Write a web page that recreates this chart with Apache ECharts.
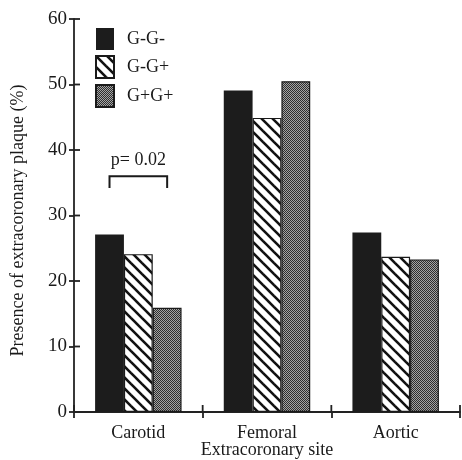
<!DOCTYPE html>
<html><head><meta charset="utf-8">
<script src="https://cdn.jsdelivr.net/npm/echarts@6/dist/echarts.min.js"></script>
<style>html,body{margin:0;padding:0;background:#fff}#c{width:462px;height:460px}</style>
</head><body><div id="c"></div>
<script>
var categories = ['Carotid', 'Femoral', 'Aortic'];
var seriesNames = ['G-G-', 'G-G+', 'G+G+'];
var valsGmGm = [27.1, 49.1, 27.4];
var valsGmGp = [24.1, 44.9, 23.7];
var valsGpGp = [15.9, 50.5, 23.3];
var yTicks = [0, 10, 20, 30, 40, 50, 60];
var pText = 'p= 0.02';
var bracketY = 36.0, bracketTickY = 34.2, pTextY = 38.4;

var FONT = 'Liberation Serif';

function hatchPattern() {
  var s = 11, c = document.createElement('canvas');
  c.width = s; c.height = s;
  var g = c.getContext('2d');
  g.fillStyle = '#fff'; g.fillRect(0, 0, s, s);
  g.strokeStyle = '#111'; g.lineWidth = 2.6;
  for (var k = -1; k <= 1; k++) {
    g.beginPath(); g.moveTo(-2, -2 + k * s); g.lineTo(s + 2, s + 2 + k * s); g.stroke();
  }
  return c;
}
function dotPattern() {
  var c = document.createElement('canvas');
  c.width = 2; c.height = 2;
  var g = c.getContext('2d');
  g.fillStyle = '#a4a4a4'; g.fillRect(0, 0, 2, 2);
  g.fillStyle = '#2e2e2e'; g.fillRect(0, 0, 1, 1); g.fillRect(1, 1, 1, 1);
  return c;
}

var colors = [
  '#1c1c1c',
  { image: hatchPattern(), repeat: 'repeat' },
  { image: dotPattern(), repeat: 'repeat' }
];
var dataSets = [valsGmGm, valsGmGp, valsGpGp];

var chart = echarts.init(document.getElementById('c'), null, { renderer: 'canvas' });
var textColor = '#1a1a1a';
var axisCol = '#222';
var option = {
  backgroundColor: '#fff',
  animation: false,
  grid: { left: 74, right: 2, top: 19, bottom: 48, containLabel: false, outerBoundsMode: 'none' },
  legend: {
    orient: 'vertical', left: 95, top: 28, icon: 'rect', padding: 0,
    itemWidth: 18, itemHeight: 22, itemGap: 5,
    data: seriesNames,
    textStyle: { fontFamily: FONT, fontSize: 18, color: textColor, padding: [8, 0, 0, 8] }
  },
  xAxis: {
    type: 'category', data: categories,
    axisLine: { lineStyle: { color: axisCol, width: 1.8 } },
    axisTick: { show: true, length: 6, lineStyle: { color: axisCol, width: 1.8 } },
    axisLabel: { fontFamily: FONT, fontSize: 18, color: textColor, margin: 12 },
    name: 'Extracoronary site', nameLocation: 'middle', nameGap: 29, nameMoveOverlap: false,
    nameTextStyle: { fontFamily: FONT, fontSize: 18, color: textColor }
  },
  yAxis: {
    type: 'value', min: yTicks[0], max: yTicks[yTicks.length - 1], interval: 10,
    axisLine: { show: true, lineStyle: { color: axisCol, width: 1.8 } },
    axisTick: { show: true, length: 5, lineStyle: { color: axisCol, width: 1.8 } },
    splitLine: { show: false },
    axisLabel: { fontFamily: FONT, fontSize: 19, color: textColor, margin: 7 },
    name: 'Presence of extracoronary plaque (%)', nameLocation: 'middle', nameGap: 47, nameMoveOverlap: false,
    nameTextStyle: { fontFamily: FONT, fontSize: 18, color: textColor, padding: [0, 10, 0, 0] }
  },
  series: seriesNames.map(function (n, i) {
    return {
      name: n, type: 'bar', data: dataSets[i],
      barWidth: '22.4%', barGap: '0%',
      itemStyle: { color: colors[i], borderColor: '#1a1a1a', borderWidth: i === 0 ? 0 : 1.2 }
    };
  })
};
chart.setOption(option);

// inner halves of crossing ticks + p-value bracket, positioned from data coordinates
var graphics = [];
var origin = chart.convertToPixel({ gridIndex: 0 }, [0, 0]);
var c0 = chart.convertToPixel({ gridIndex: 0 }, [0, bracketY]);
var c1 = chart.convertToPixel({ gridIndex: 0 }, [1, bracketY]);
var band = c1[0] - c0[0];
var axisX = origin[0] - band / 2;
var axisY = origin[1];
yTicks.forEach(function (t) {
  var py = chart.convertToPixel({ yAxisIndex: 0 }, t);
  graphics.push({ type: 'line', shape: { x1: axisX, y1: py, x2: axisX + 6, y2: py },
    style: { stroke: axisCol, lineWidth: 1.8 } });
});
for (var k = 0; k <= categories.length; k++) {
  var px = axisX + k * band;
  graphics.push({ type: 'line', shape: { x1: px, y1: axisY, x2: px, y2: axisY - 7 },
    style: { stroke: axisCol, lineWidth: 1.8 } });
}
var bw = band * 0.224;
var xL = c0[0] - bw, xR = c0[0] + bw;
var yH = c0[1];
var yT = chart.convertToPixel({ gridIndex: 0 }, [0, bracketTickY])[1];
var yP = chart.convertToPixel({ gridIndex: 0 }, [0, pTextY])[1];
graphics.push({
  type: 'polyline',
  shape: { points: [[xL, yT], [xL, yH], [xR, yH], [xR, yT]] },
  style: { stroke: '#1a1a1a', lineWidth: 2, fill: null }
}, {
  type: 'text', x: c0[0], y: yP,
  style: { text: pText, fontFamily: FONT, fontSize: 18, fill: textColor, align: 'center', verticalAlign: 'middle' }
});
chart.setOption({ graphic: graphics });
</script></body></html>
